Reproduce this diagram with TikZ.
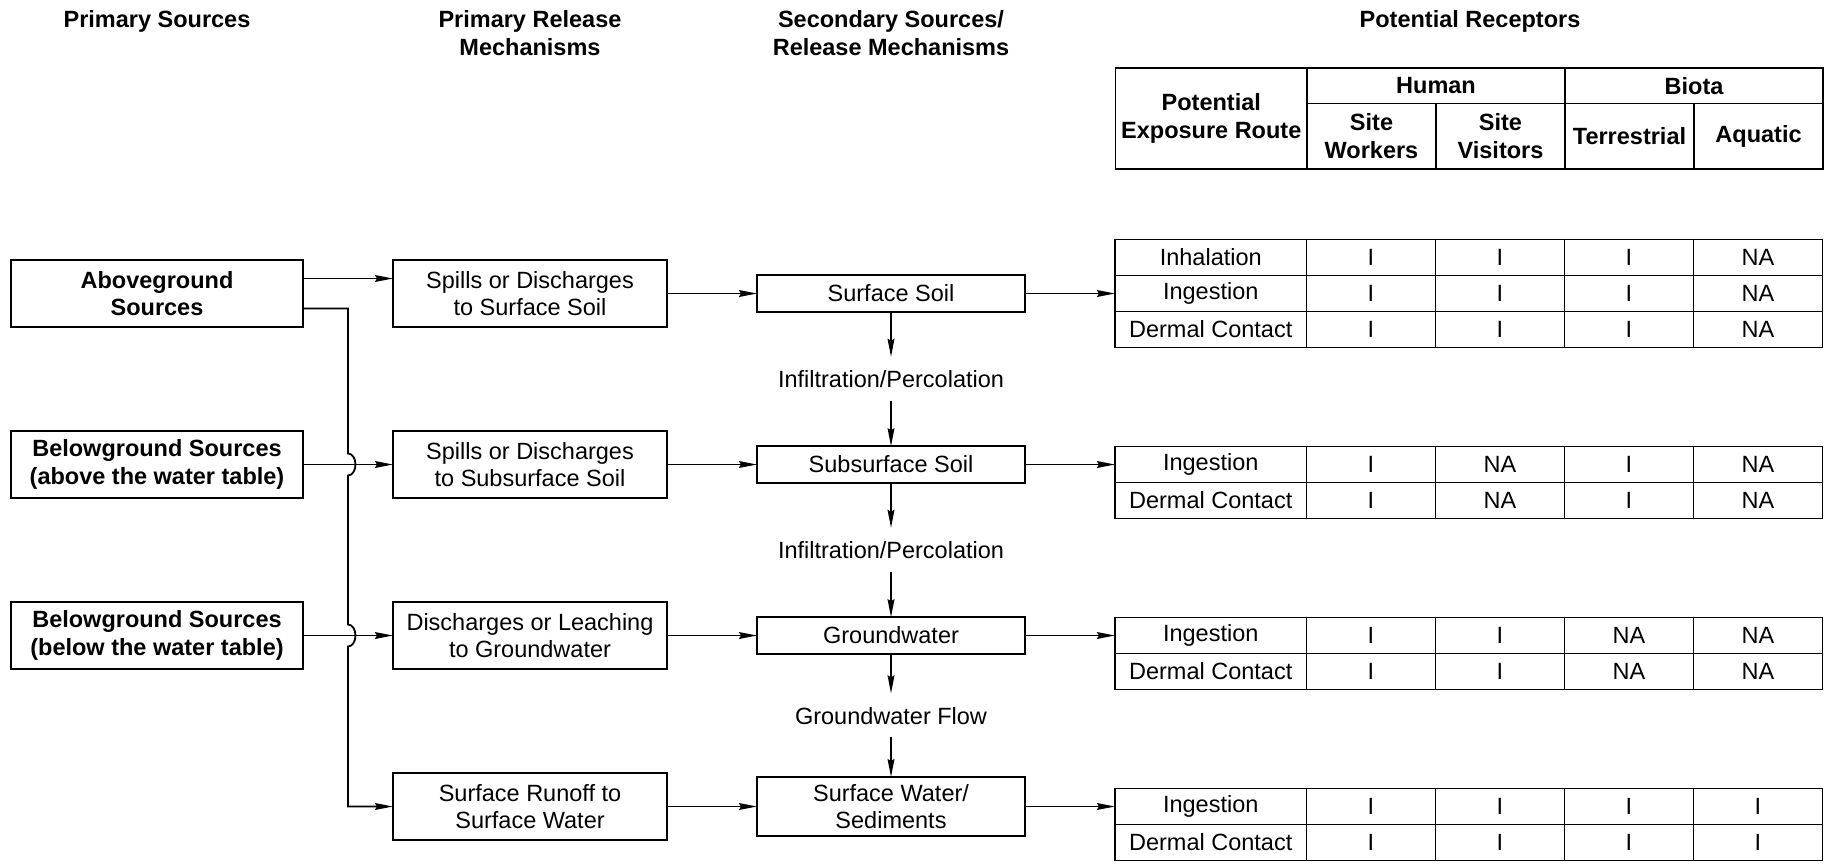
\documentclass[tikz,border=0pt]{standalone}
\usepackage{fontspec}
\setmainfont{Liberation Sans}
\usepackage{tikz}
\usetikzlibrary{matrix, calc, positioning}
\usetikzlibrary{arrows.meta}

\newcommand{\diagfont}{\fontsize{11.75pt}{13.8pt}\selectfont}

\begin{document}
\begin{tikzpicture}[x=0.5pt, y=0.5pt, font=\diagfont, node distance=45pt]
	\useasboundingbox (0,-1.5) rectangle (1837,-864.5);

	% 定义样式
	\tikzset{
	box/.style = {draw, line width=0.9pt, align=center, inner sep=1pt, outer sep=0pt},
	srcbox/.style = {box, minimum width=146pt, minimum height=33.3pt, font=\diagfont\bfseries},
	relbox/.style = {box, minimum width=137pt, minimum height=33.3pt},
	secbox/.style = {box, minimum width=134pt, minimum height=18.3pt},
	flow/.style = {inner xsep=0pt, inner ysep=6.7pt, outer sep=0pt, text height=8.6pt, text depth=0pt},
	head/.style = {anchor=north, align=center, inner sep=0pt, font=\diagfont\bfseries},
	hcell/.style = {draw, line width=0.9pt, align=center, inner sep=0pt, outer sep=0pt, anchor=north west, font=\diagfont\bfseries},
	arrow/.style = {arrows = {-Stealth[length=9pt, width=3.4pt, inset=1pt]}, line width=0.9pt},
	tbl/.style = {matrix of nodes, inner sep=0pt, outer sep=0pt,
		nodes={draw, line width=0.9pt, minimum width=64.5pt, minimum height=18pt, inner sep=0pt, anchor=center},
		column 1/.style={nodes={minimum width=95.75pt}},
		column sep=-0.9pt, row sep=-0.9pt}
	}

	% 标题
	\node[head] (h1) at (157,-12) {Primary Sources};
	\node[head] (h2) at (530,-12) {Primary Release\\Mechanisms};
	\node[head] (h3) at (891,-12) {Secondary Sources/\\Release Mechanisms};
	\node[head] (h4) at (1470,-12) {Potential Receptors};

	% 表头
	\node[hcell, minimum width=95.75pt, minimum height=50.7pt] (route) at (1115.5,-69.3) {Potential\\Exposure Route};
	\node[hcell, minimum width=129pt, minimum height=17.85pt] (human) at (route.north east) {Human};
	\node[hcell, minimum width=129pt, minimum height=17.85pt] (biota) at (human.north east) {Biota};
	\node[hcell, minimum width=64.5pt, minimum height=32.85pt] (work) at (human.south west) {Site\\Workers};
	\node[hcell, minimum width=64.5pt, minimum height=32.85pt] (visit) at (work.north east) {Site\\Visitors};
	\node[hcell, minimum width=64.5pt, minimum height=32.85pt] (terr) at (visit.north east) {Terrestrial};
	\node[hcell, minimum width=64.5pt, minimum height=32.85pt] (aqua) at (terr.north east) {Aquatic};

	% 源
	\node[srcbox] (ag) at (157,-295) {Aboveground\\Sources};
	\node[srcbox, below=52.2pt of ag] (bga) {Belowground Sources\\(above the water table)};
	\node[srcbox, below=52.2pt of bga] (bgb) {Belowground Sources\\(below the water table)};

	\node[relbox, right=of ag] (sp1) {Spills or Discharges\\to Surface Soil};
	\node[relbox, right=of bga] (sp2) {Spills or Discharges\\to Subsurface Soil};
	\node[relbox, right=of bgb] (leach) {Discharges or Leaching\\to Groundwater};
	\node[relbox, below=52.2pt of leach] (runoff) {Surface Runoff to\\Surface Water};

	\node[secbox, right=of sp1] (ss) {Surface Soil};
	\node[secbox, right=of sp2] (sub) {Subsurface Soil};
	\node[secbox, right=of leach] (gw) {Groundwater};
	\node[secbox, minimum height=29.5pt, right=of runoff] (sw) {Surface Water/\\Sediments};

	\node[flow, below=22.5pt of ss] (perc1) {Infiltration/Percolation};
	\node[flow, below=22.5pt of sub] (perc2) {Infiltration/Percolation};
	\node[flow, below=19.8pt of gw] (gwflow) {Groundwater Flow};

	% 受体表
	\matrix (t1) [tbl, right=44.55pt of ss]
	{
		Inhalation     & I & I & I & NA \\
		Ingestion      & I & I & I & NA \\
		Dermal Contact & I & I & I & NA \\
	};
	\matrix (t2) [tbl, anchor=north west] at ($(sub.east)+(44.55pt,9.45pt)$)
	{
		Ingestion      & I & NA & I & NA \\
		Dermal Contact & I & NA & I & NA \\
	};
	\matrix (t3) [tbl, anchor=north west] at ($(gw.east)+(44.55pt,9.45pt)$)
	{
		Ingestion      & I & I & NA & NA \\
		Dermal Contact & I & I & NA & NA \\
	};
	\matrix (t4) [tbl, anchor=north west] at ($(sw.east)+(44.55pt,9.45pt)$)
	{
		Ingestion      & I & I & I & I \\
		Dermal Contact & I & I & I & I \\
	};

	% 箭头
	\coordinate (bus) at (348,0);
	\draw[arrow] ([yshift=7.5pt]ag.east) -- ([yshift=7.5pt]sp1.west);
	\draw[arrow] ([yshift=-7.5pt]ag.east) -| ($(bus |- bga.east)+(0,5.5pt)$)
		arc[start angle=90, end angle=-90, x radius=3.75pt, y radius=5.5pt]
		-- ($(bus |- bgb.east)+(0,5.5pt)$)
		arc[start angle=90, end angle=-90, x radius=3.75pt, y radius=5.5pt]
		|- (runoff.west);

	\draw (bga) edge [arrow] (sp2);
	\draw (bgb) edge [arrow] (leach);
	\draw (sp1) edge [arrow] (ss);
	\draw (sp2) edge [arrow] (sub);
	\draw (leach) edge [arrow] (gw);
	\draw (runoff) edge [arrow] (sw);

	\draw (ss) edge [arrow] (perc1);
	\draw (perc1) edge [arrow] (sub);
	\draw (sub) edge [arrow] (perc2);
	\draw (perc2) edge [arrow] (gw);
	\draw (gw) edge [arrow] (gwflow);
	\draw (gwflow) edge [arrow] (sw);

	\draw (ss) edge [arrow] (t1-2-1);
	\draw (sub) edge [arrow] (t2-1-1);
	\draw (gw) edge [arrow] (t3-1-1);
	\draw (sw) edge [arrow] (t4-1-1);

\end{tikzpicture}
\end{document}
